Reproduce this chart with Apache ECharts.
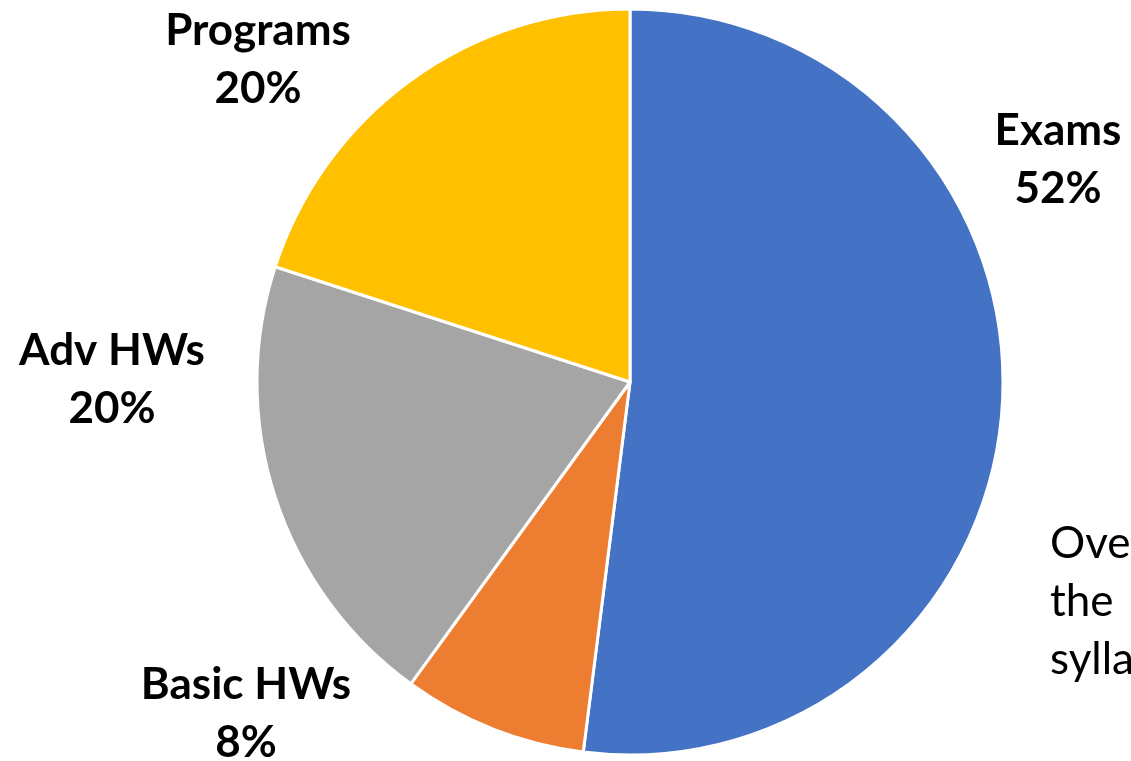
<!DOCTYPE html>
<html>
<head>
<meta charset="utf-8">
<script src="https://cdn.jsdelivr.net/npm/echarts@6/dist/echarts.min.js"></script>
<style>
  html, body { margin: 0; padding: 0; background: #fff; }
  #main { width: 1131px; height: 761px; }
</style>
</head>
<body>
<div id="main"></div>
<script>
// 各部分名称和比例
var categories = ['Exams', 'Basic HWs', 'Adv HWs', 'Programs'];
var values = [52, 8, 20, 20];
var colors = ['#4472C4', '#ED7D31', '#A5A5A5', '#FFC000'];
// 右边被截掉的文字
var sideText = ['Ove', 'the', 'sylla'];

// 标签中心位置
var labelPos = [[1058, 160], [246, 714], [112, 380], [258, 60]];

var font = 'Lato, "Open Sans", sans-serif';

var pieData = [];
for (var i = 0; i < categories.length; i++) {
    pieData.push({ name: categories[i], value: values[i], itemStyle: { color: colors[i] } });
}

var myChart = echarts.init(document.getElementById('main'));

var option = {
    animation: false,
    graphic: sideText.map(function (t, i) {
        return {
            type: 'text',
            left: 1050,
            top: 522 + i * 58,
            style: { text: t, font: '44px ' + font, fill: '#000' }
        };
    }),
    series: [
        {
            type: 'pie',
            center: [630, 382],
            radius: 373,
            startAngle: 90,
            clockwise: true,
            percentPrecision: 0,
            data: pieData,
            itemStyle: { borderColor: '#fff', borderWidth: 3 },
            label: {
                show: true,
                formatter: '{b}\n{d}%',
                fontFamily: font,
                fontWeight: 'bold',
                fontSize: 44,
                lineHeight: 58,
                color: '#000',
                align: 'center',
                overflow: 'none'
            },
            labelLine: { show: false },
            labelLayout: function (params) {
                var p = labelPos[params.dataIndex];
                return { x: p[0], y: p[1], align: 'center', verticalAlign: 'middle' };
            }
        }
    ]
};
myChart.setOption(option);
</script>
</body>
</html>
